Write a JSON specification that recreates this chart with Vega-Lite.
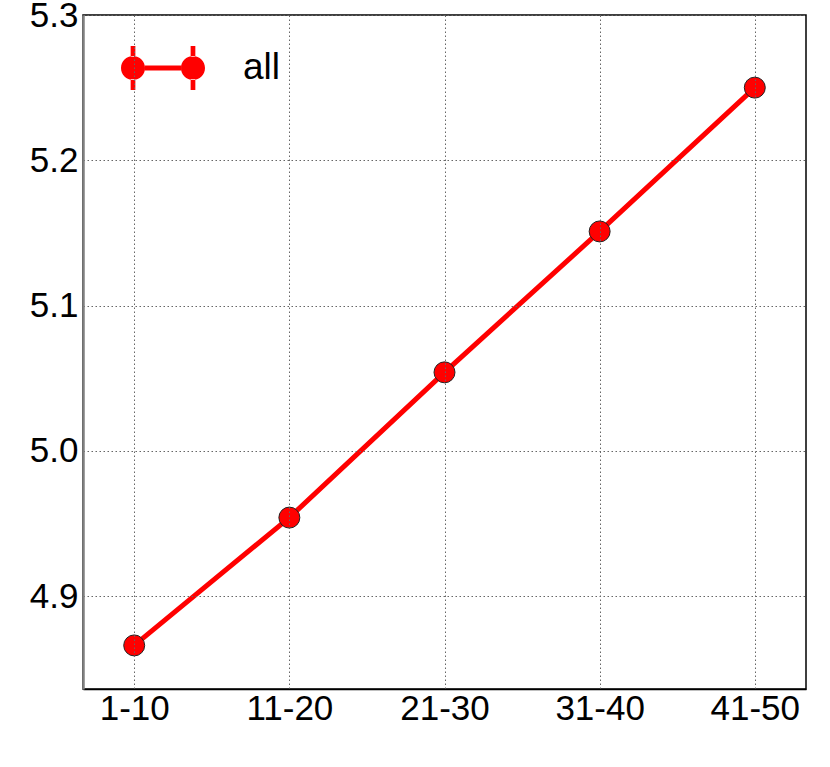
{
  "$schema": "https://vega.github.io/schema/vega-lite/v6.json",
  "width": 723,
  "height": 674,
  "autosize": {"type": "none"},
  "padding": {"left": 83, "top": 15, "right": 24, "bottom": 78},
  "background": "white",
  "config": {
    "font": "Liberation Sans",
    "view": {"stroke": "black", "strokeWidth": 1.5}
  },
  "data": {
    "values": [
      {"group": "1-10", "value": 4.866, "series": "all"},
      {"group": "11-20", "value": 4.954, "series": "all"},
      {"group": "21-30", "value": 5.054, "series": "all"},
      {"group": "31-40", "value": 5.151, "series": "all"},
      {"group": "41-50", "value": 5.25, "series": "all"}
    ]
  },
  "encoding": {
    "x": {
      "field": "group",
      "type": "ordinal",
      "sort": null,
      "scale": {"type": "point", "padding": 0.33},
      "axis": {
        "title": null,
        "labelAngle": 0,
        "labelFontSize": 35,
        "labelColor": "black",
        "labelPadding": 2,
        "tickSize": 0,
        "grid": true,
        "gridDash": [1.5, 2.5],
        "gridColor": "#666",
        "gridWidth": 1,
        "domainColor": "black",
        "domainWidth": 1.5,
        "zindex": 1
      }
    },
    "y": {
      "field": "value",
      "type": "quantitative",
      "scale": {"domain": [4.836, 5.3], "nice": false, "zero": false},
      "axis": {
        "title": null,
        "values": [4.9, 5.0, 5.1, 5.2, 5.3],
        "format": ".1f",
        "labelFontSize": 35,
        "labelColor": "black",
        "labelPadding": 5,
        "tickSize": 0,
        "grid": true,
        "gridDash": [1.5, 2.5],
        "gridColor": "#666",
        "gridWidth": 1,
        "domainColor": "#808080",
        "domainWidth": 2.5,
        "zindex": 1
      }
    }
  },
  "layer": [
    {
      "mark": {"type": "line", "color": "red", "strokeWidth": 5}
    },
    {
      "mark": {"type": "point", "filled": true, "size": 440, "opacity": 1, "stroke": "#222", "strokeWidth": 1},
      "encoding": {
        "color": {
          "field": "series",
          "type": "nominal",
          "scale": {"range": ["red"]},
          "legend": {
            "title": null,
            "orient": "none",
            "legendX": 38,
            "legendY": 11,
            "labelFontSize": 37,
            "labelColor": "black",
            "labelOffset": 38,
            "symbolSize": 7056,
            "symbolType": "M-0.77,-0.524 L-0.658,-0.524 L-0.658,-0.27 L-0.77,-0.27 Z M-0.77,0.27 L-0.658,0.27 L-0.658,0.524 L-0.77,0.524 Z M0.658,-0.524 L0.77,-0.524 L0.77,-0.27 L0.658,-0.27 Z M0.658,0.27 L0.77,0.27 L0.77,0.524 L0.658,0.524 Z M-0.43,-0.06 L0.43,-0.06 L0.43,0.06 L-0.43,0.06 Z M-1,0 A0.286,0.286 0 1,0 -0.428,0 A0.286,0.286 0 1,0 -1,0 Z M0.428,0 A0.286,0.286 0 1,0 1,0 A0.286,0.286 0 1,0 0.428,0 Z",
            "symbolFillColor": "red",
            "symbolStrokeWidth": 0,
            "symbolOpacity": 1,
            "encode": {
              "symbols": {"update": {"size": {"value": 7056}, "strokeWidth": {"value": 0}, "fill": {"value": "red"}, "opacity": {"value": 1}}}
            }
          }
        }
      }
    }
  ]
}
